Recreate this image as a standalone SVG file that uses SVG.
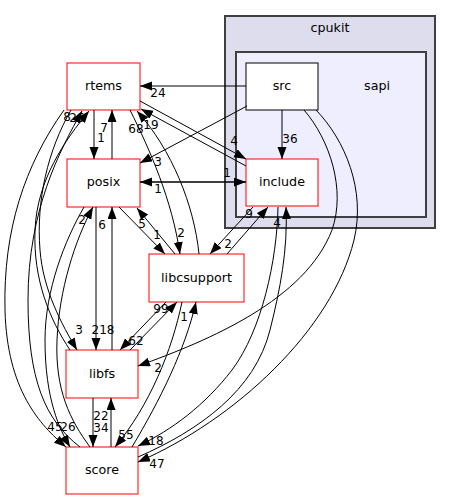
<svg xmlns="http://www.w3.org/2000/svg" width="452" height="500" viewBox="0 0 452 500">
<style>
text{font-family:"DejaVu Sans","Liberation Sans",sans-serif;text-anchor:middle;fill:#000}
.nt{font-size:12.7px}
.et{font-size:12px}
.n rect{fill:#fff;stroke:#ff0000;stroke-width:1}
.cl{stroke:#404040;stroke-width:2}
.e path{fill:none;stroke:#000;stroke-width:1;marker-end:url(#a)}
</style>
<defs>
<marker id="a" markerWidth="13" markerHeight="10" refX="12" refY="4.5" orient="auto" markerUnits="userSpaceOnUse">
<path d="M0,0L12,4.5L0,9z" fill="#000"/>
</marker>
</defs>
<rect width="452" height="500" fill="#fff"/>
<g id="cluster_cpukit">
<rect class="cl" x="225" y="16" width="210" height="212" fill="#ddddee"/>
<text class="nt" x="330" y="32">cpukit</text>
</g>
<g id="cluster_sapi">
<rect class="cl" x="236" y="52" width="190" height="165" fill="#eeeeff"/>
<text class="nt" x="377" y="90">sapi</text>
</g>
<g id="node_src"><rect x="246" y="63" width="72" height="47" fill="#fff" stroke="#000"/><text class="nt" x="282" y="90">src</text></g>
<g id="node_include" class="n"><rect x="246" y="159" width="72" height="47"/><text class="nt" x="282" y="186">include</text></g>
<g id="node_rtems" class="n"><rect x="67" y="63" width="73" height="47"/><text class="nt" x="103.5" y="90">rtems</text></g>
<g id="node_posix" class="n"><rect x="67" y="159" width="73" height="48"/><text class="nt" x="103.5" y="186">posix</text></g>
<g id="node_libcsupport" class="n"><rect x="149" y="254" width="95" height="48"/><text class="nt" x="196.5" y="282">libcsupport</text></g>
<g id="node_libfs" class="n"><rect x="66" y="350" width="72" height="48"/><text class="nt" x="102" y="378">libfs</text></g>
<g id="node_score" class="n"><rect x="66" y="447" width="72" height="47"/><text class="nt" x="102" y="474">score</text></g>
<g id="connectors" class="e">
<g><path d="M246,86L140,86"/><text class="et" x="158" y="97">24</text></g>
<g><path d="M282,110L282,159"/><text class="et" x="290" y="143">36</text></g>
<g><path d="M247,106L140,163"/><text class="et" x="158" y="166">3</text></g>
<g><path d="M140,101L246,159"/><text class="et" x="234" y="145">4</text></g>
<g><path d="M246,166L141,109"/><text class="et" x="151" y="129">19</text></g>
<g><path d="M140,182L246,182"/><text class="et" x="227" y="177">1</text></g>
<g><path d="M246,182L140,182"/><text class="et" x="158" y="193">1</text></g>
<g><path d="M94,110L94,159"/><text class="et" x="101" y="142">1</text></g>
<g><path d="M112,159L112,110"/><text class="et" x="104" y="132">7</text></g>
<g><path d="M130,110C150,150 172,200 180,254"/><text class="et" x="181" y="237">2</text></g>
<g><path d="M199,254C194,205 172,150 137,111"/><text class="et" x="136" y="133">68</text></g>
<g><path d="M119,207L165,254"/><text class="et" x="157" y="239">1</text></g>
<g><path d="M175,254L137,208"/><text class="et" x="142" y="228">5</text></g>
<g><path d="M227,254L268,207"/><text class="et" x="249" y="218">9</text></g>
<g><path d="M253,207L210,254"/><text class="et" x="228" y="248">2</text></g>
<g><path d="M130,350L177,302"/><text class="et" x="161" y="313">99</text></g>
<g><path d="M166,302L120,350"/><text class="et" x="136" y="345">62</text></g>
<g><path d="M132,447C160,400 185,350 196,302"/><text class="et" x="184" y="321">1</text></g>
<g><path d="M182,302C172,350 150,405 115,447"/><text class="et" x="126" y="439">55</text></g>
<g><path d="M304,110C330,140 346,190 332,230C305,300 210,340 138,366"/><text class="et" x="158" y="372">2</text></g>
<g><path d="M316,110C345,140 366,190 354,240C332,330 235,420 138,462"/><text class="et" x="157" y="468">47</text></g>
<g><path d="M278,207C277,260 262,330 232,370C205,405 172,430 138,446"/><text class="et" x="156" y="445">18</text></g>
<g><path d="M138,457C200,430 255,390 270,330C280,290 288,250 286,207"/><text class="et" x="277" y="227">4</text></g>
<g><path d="M93,398L93,447"/><text class="et" x="101" y="432">34</text></g>
<g><path d="M111,447L111,398"/><text class="et" x="101" y="420">22</text></g>
<g><path d="M96,207L96,350"/><text class="et" x="103" y="334">218</text></g>
<g><path d="M112,350L112,207"/><text class="et" x="102" y="229">6</text></g>
<g><path d="M71,110C48,150 36,200 40,250C43,290 62,325 77,350"/><text class="et" x="79" y="334">3</text></g>
<g><path d="M90,447C70,420 55,390 57,340C59,290 75,240 93,207"/><text class="et" x="82" y="224">2</text></g>
<g><path d="M84,207C65,240 45,290 45,340C45,400 60,430 70,447"/><text class="et" x="68" y="431">26</text></g>
<g><path d="M64,110C25,165 3,230 5,310C7,390 40,425 66,447"/><text class="et" x="55" y="431">45</text></g>
<g><path d="M80,447C45,420 28,380 28,300C28,210 60,150 82,111"/><text class="et" x="67" y="121">8</text></g>
<g><path d="M70,350C50,320 33,280 35,230C37,180 65,140 89,111"/><text class="et" x="77" y="122">26</text></g>
</g>
</svg>
